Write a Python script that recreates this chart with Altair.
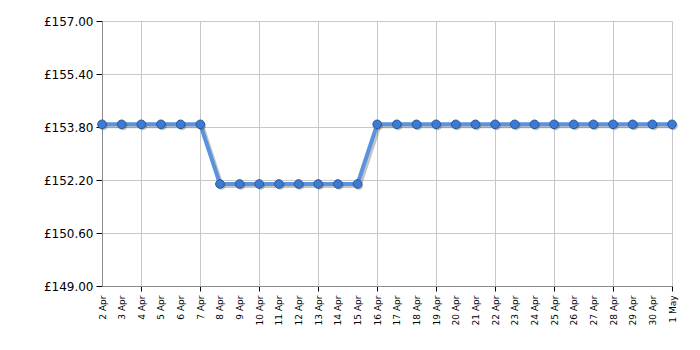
import altair as alt
import pandas as pd

dates = ["2024-04-%02d" % d for d in range(2, 31)] + ["2024-05-01"]
prices = [153.88] * 6 + [152.08] * 8 + [153.88] * 16
y_ticks = [149.0, 150.6, 152.2, 153.8, 155.4, 157.0]

df = pd.DataFrame({"date": dates, "price": prices})
tick_ms = [int(v) for v in (pd.to_datetime(dates).astype("int64") // 10**6)]

grid_test = "utcdate(datum.value) % 3 == 1"

x_enc = alt.X(
    "date:T",
    scale=alt.Scale(type="utc", nice=False, domain=[tick_ms[0], tick_ms[-1]]),
    axis=alt.Axis(
        title=None,
        values=tick_ms,
        labelExpr="utcFormat(datum.value, '%-d %b')",
        labelAngle=-90,
        labelFont="DejaVu Sans",
        labelFontSize=9,
        labelColor="#000",
        labelPadding=4,
        labelOverlap=False,
        labelFlush=False,
        tickSize=5,
        tickColor="#000",
        tickOpacity={"condition": {"test": grid_test, "value": 1}, "value": 0},
        grid=True,
        gridColor="#c8c8c8",
        gridOpacity={"condition": {"test": grid_test, "value": 1}, "value": 0},
        domainColor="#8c8c8c",
    ),
)
y_enc = alt.Y(
    "price:Q",
    scale=alt.Scale(domain=[149, 157], nice=False, zero=False),
    axis=alt.Axis(
        title=None,
        values=y_ticks,
        labelExpr="'£' + format(datum.value, '.2f')",
        labelFont="DejaVu Sans",
        labelFontSize=12,
        labelColor="#000",
        labelPadding=3,
        tickSize=6,
        tickColor="#000",
        gridColor="#c8c8c8",
        domainColor="#8c8c8c",
    ),
)

base = alt.Chart(df).encode(x=x_enc, y=y_enc)

shadow_line = base.mark_line(color="#555", strokeWidth=4, opacity=0.35, xOffset=2, yOffset=2)
line = base.mark_line(color="#5b93de", strokeWidth=4)
shadow_pts = base.mark_circle(size=75, color="#555", opacity=0.35, xOffset=1.5, yOffset=1.5)
pts = base.mark_point(filled=True, size=75, fill="#3d7bd2", stroke="#2a5a9c", strokeWidth=1, opacity=1)

chart = (
    alt.layer(shadow_line, line, shadow_pts, pts)
    .properties(
        width=570,
        height=265,
        autosize=alt.AutoSizeParams(type="none"),
        padding={"left": 102, "top": 21, "right": 28, "bottom": 64},
        background="white",
    )
    .configure_view(stroke=None)
)

chart.save("out.html", embed_options={"renderer": "svg", "actions": False})
